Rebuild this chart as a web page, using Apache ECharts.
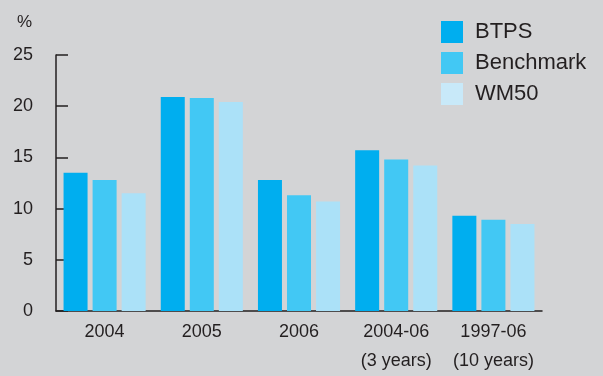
<!DOCTYPE html>
<html>
<head>
<meta charset="utf-8">
<script src="https://cdn.jsdelivr.net/npm/echarts@6/dist/echarts.min.js"></script>
<style>
html,body{margin:0;padding:0;background:#d3d4d6;}
#c{width:603px;height:376px;}
</style>
</head>
<body>
<div id="c"></div>
<script>
var categories = ['2004', '2005', '2006', '2004-06\n(3 years)', '1997-06\n(10 years)'];
var btps = [13.5, 20.9, 12.8, 15.7, 9.3];
var benchmark = [12.8, 20.8, 11.3, 14.8, 8.9];
var wm50 = [11.5, 20.4, 10.7, 14.2, 8.5];
var yTicks = [0, 5, 10, 15, 20, 25];

var font = '"Liberation Sans", Arial, Helvetica, sans-serif';
var txt = '#231f20';
var chart = echarts.init(document.getElementById('c'));
chart.setOption({
  backgroundColor: '#d3d4d6',
  animation: false,
  title: {
    text: '%', left: 12, top: 9,
    textStyle: {fontFamily: font, fontSize: 17, fontWeight: 'normal', color: txt}
  },
  legend: {
    orient: 'vertical', left: 436, top: 16,
    itemWidth: 22, itemHeight: 22, itemGap: 9,
    icon: 'rect',
    textStyle: {fontFamily: font, fontSize: 22, color: txt, padding: [0, 0, 0, 7]},
    data: [
      {name: 'BTPS', itemStyle: {color: '#00aeef'}},
      {name: 'Benchmark', itemStyle: {color: '#42c8f4'}},
      {name: 'WM50', itemStyle: {color: '#c8e9f9'}}
    ]
  },
  grid: {left: 56, right: 61, top: 55, bottom: 61},
  xAxis: {
    type: 'category',
    data: categories,
    axisLine: {lineStyle: {color: '#231f20', width: 1.5}},
    axisTick: {inside: true, length: 7, lineStyle: {color: '#231f20', width: 1.5}},
    axisLabel: {interval: 0, fontFamily: font, fontSize: 18, color: txt, lineHeight: 29, margin: 7}
  },
  yAxis: {
    type: 'value', min: yTicks[0], max: yTicks[yTicks.length - 1], interval: 5,
    splitLine: {show: false},
    axisLine: {show: true, lineStyle: {color: '#231f20', width: 1.5}},
    axisTick: {show: true, inside: true, length: 12, lineStyle: {color: '#231f20', width: 1.5}},
    axisLabel: {fontFamily: font, fontSize: 18, color: txt, margin: 23}
  },
  series: [
    {name: 'BTPS', type: 'bar', data: btps, barWidth: 24, barGap: '21%', itemStyle: {color: '#00aeef'}},
    {name: 'Benchmark', type: 'bar', data: benchmark, barWidth: 24, barGap: '21%', itemStyle: {color: '#42c8f4'}},
    {name: 'WM50', type: 'bar', data: wm50, barWidth: 24, barGap: '21%', itemStyle: {color: '#abe1f8'}}
  ]
});
</script>
</body>
</html>
